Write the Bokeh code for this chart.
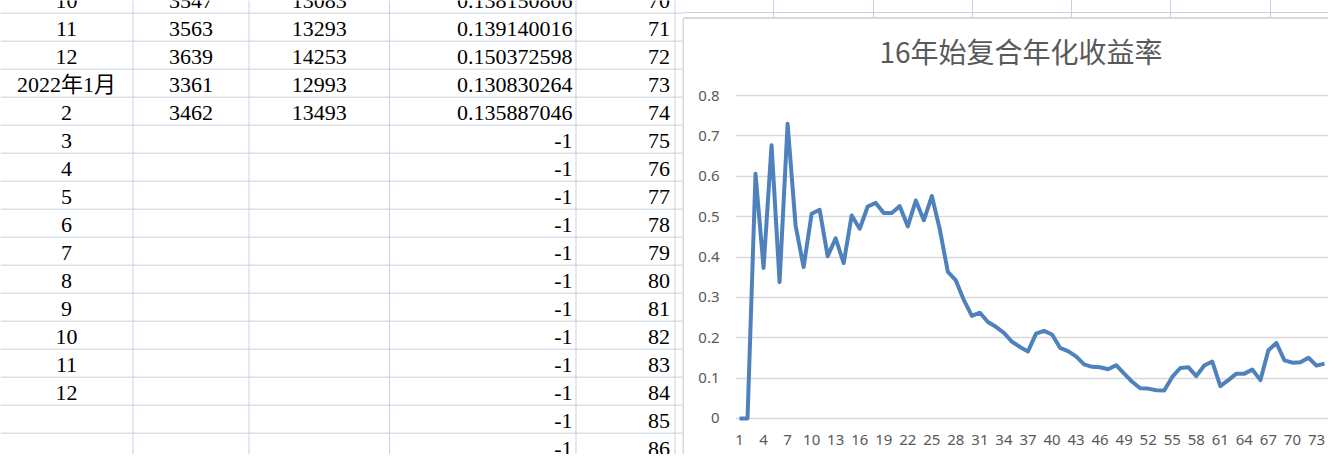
from bokeh.plotting import figure
from bokeh.layouts import row, column
from bokeh.models import Range1d, FixedTicker, ColumnDataSource, Label, Div
from bokeh.core.properties import value
from bokeh.embed import file_html
from bokeh.resources import INLINE

# ---------------- spreadsheet contents (rows top to bottom) ----------------
col_month = ["10", "11", "12", "2022年1月", "2", "3", "4", "5", "6", "7", "8",
             "9", "10", "11", "12", "", "", ""]
col_count = ["3547", "3563", "3639", "3361", "3462", "", "", "", "", "", "",
             "", "", "", "", "", "", ""]
col_value = ["13083", "13293", "14253", "12993", "13493", "", "", "", "", "", "",
             "", "", "", "", "", "", ""]
col_rate = ["0.138150806", "0.139140016", "0.150372598", "0.130830264", "0.135887046",
            "-1", "-1", "-1", "-1", "-1", "-1", "-1", "-1", "-1", "-1", "-1", "-1", "-1"]
col_index = ["70", "71", "72", "73", "74", "75", "76", "77", "78", "79", "80",
             "81", "82", "83", "84", "85", "86", "87"]

# ---------------- chart data ----------------
title_text = "16年始复合年化收益率"
periods = list(range(1, 75))
rates = [0.0, 0.0, 0.606, 0.373, 0.677, 0.338, 0.730, 0.478, 0.375, 0.507,
         0.517, 0.402, 0.446, 0.385, 0.503, 0.470, 0.525, 0.534, 0.509, 0.509,
         0.526, 0.476, 0.540, 0.491, 0.551, 0.468, 0.363, 0.342, 0.293, 0.254,
         0.262, 0.239, 0.227, 0.212, 0.190, 0.177, 0.166, 0.210, 0.217, 0.208,
         0.175, 0.167, 0.154, 0.134, 0.128, 0.127, 0.122, 0.132, 0.111, 0.091,
         0.075, 0.074, 0.070, 0.069, 0.103, 0.125, 0.127, 0.105, 0.131, 0.141,
         0.080, 0.095, 0.111, 0.111, 0.121, 0.095, 0.169, 0.187, 0.144,
         0.138150806, 0.139140016, 0.150372598, 0.130830264, 0.135887046]
x_ticks = [1, 4, 7, 10, 13, 16, 19, 22, 25, 28, 31, 34, 37, 40, 43, 46, 49,
           52, 55, 58, 61, 64, 67, 70, 73]
y_ticks = [0, 0.1, 0.2, 0.3, 0.4, 0.5, 0.6, 0.7, 0.8]

GRID = "#C9CFDE"
CHART_BORDER = "#D9D9D9"
CELL_FONT = value("'Liberation Serif', 'Noto Sans CJK SC', serif")

W, H = 1328, 454
SHEET_W = 684
STRIP_H = 19
CHART_W = W - SHEET_W
CHART_H = H - STRIP_H
TOP_GAP, BOTTOM, LEFT = 72, 32, 51          # space reserved above the 0.81 line
Y0, Y_TOP_GRID = -0.01, 0.81
PX_PER_UNIT = (CHART_H - TOP_GAP - BOTTOM) / (Y_TOP_GRID - Y0)
Y1 = Y_TOP_GRID + TOP_GAP / PX_PER_UNIT      # frame extends up to the chart's top edge

# ---------------- left: spreadsheet ----------------
sheet = figure(width=SHEET_W, height=H, x_range=Range1d(0, SHEET_W), y_range=Range1d(H, 0),
               toolbar_location=None, output_backend="svg", min_border=0,
               x_axis_location=None, y_axis_location=None)
sheet.grid.visible = False
sheet.outline_line_color = None
sheet.background_fill_color = "white"

col_edges = [132.5, 248.5, 389, 575.5, 674.5]
row_lines = [12.7 + 28 * k for k in range(17)]
sheet.segment(x0=col_edges, y0=[0] * len(col_edges), x1=col_edges, y1=[H] * len(col_edges),
              line_color=GRID, line_width=1)
sheet.segment(x0=[0] * len(row_lines), y0=row_lines, x1=[683] * len(row_lines), y1=row_lines,
              line_color=GRID, line_width=1)
sheet.segment(x0=[683], y0=[17.4], x1=[683], y1=[H], line_color=CHART_BORDER, line_width=2)

row_y = [-15.3 + 28 * r + 15.5 for r in range(len(col_index))]
src = ColumnDataSource(dict(y=row_y, a=col_month, b=col_count, c=col_value, d=col_rate, e=col_index))
for xpos, field, align in [(66, "a", "center"), (190.5, "b", "center"), (318.7, "c", "center"),
                           (572, "d", "right"), (669.5, "e", "right")]:
    sheet.text(x=xpos, y="y", text=field, source=src, text_align=align, text_baseline="middle",
               text_font=CELL_FONT, text_font_size="22px", text_color="#000000")

# ---------------- strip of sheet grid above the chart (plain HTML) ----------------
strip_cols = [773.5, 873, 972, 1071.5, 1170.5, 1270]
parts = ["<div style='position:relative;width:%dpx;height:%dpx;overflow:hidden;background:white'>"
         % (CHART_W, STRIP_H)]
parts.append("<div style='position:absolute;left:0;top:12px;width:%dpx;height:1px;background:%s'></div>"
             % (CHART_W, GRID))
for cx in strip_cols:
    parts.append("<div style='position:absolute;left:%dpx;top:0;width:1px;height:17px;background:%s'></div>"
                 % (int(cx - SHEET_W), GRID))
parts.append("<div style='position:absolute;left:0;top:17px;width:%dpx;height:2px;background:%s'></div>"
             % (CHART_W, CHART_BORDER))
parts.append("</div>")
strip = Div(text="".join(parts), width=CHART_W, height=STRIP_H,
            styles={"margin": "0", "padding": "0"})

# ---------------- chart ----------------
chart = figure(width=CHART_W, height=CHART_H, x_range=Range1d(0.5, 74.5),
               y_range=Range1d(Y0, Y1),
               toolbar_location=None, output_backend="svg",
               min_border_left=LEFT, min_border_right=0, min_border_top=0, min_border_bottom=BOTTOM)
chart.outline_line_color = None
chart.xgrid.visible = False
chart.ygrid.grid_line_color = "#D9D9D9"
chart.ygrid.grid_line_width = 1.5

chart.xaxis.ticker = FixedTicker(ticks=x_ticks)
chart.yaxis.ticker = FixedTicker(ticks=y_ticks)
chart.yaxis.major_label_overrides = {0: "0"}
for ax in (chart.xaxis[0], chart.yaxis[0]):
    ax.axis_line_color = None
    ax.major_tick_line_color = None
    ax.minor_tick_line_color = None
    ax.major_tick_out = 0
    ax.major_tick_in = 0
    ax.minor_tick_out = 0
    ax.major_label_text_font = "Noto Sans"
    ax.major_label_text_font_size = "15px"
    ax.major_label_text_color = "#595959"
chart.yaxis.major_label_standoff = 16
chart.xaxis.major_label_standoff = 12

chart.line(x=periods, y=rates, line_color="#4F81BD", line_width=4, line_join="round")

title = Label(x=37.5, y=Y_TOP_GRID + 41 / PX_PER_UNIT, x_offset=-11, text=title_text,
              text_align="center", text_baseline="middle",
              text_font="Noto Sans CJK SC", text_font_size="28px", text_color="#595959")
chart.add_layout(title)

layout = row(sheet, column(strip, chart, spacing=0), spacing=0)
open("out.html", "w").write(file_html(layout, INLINE))
